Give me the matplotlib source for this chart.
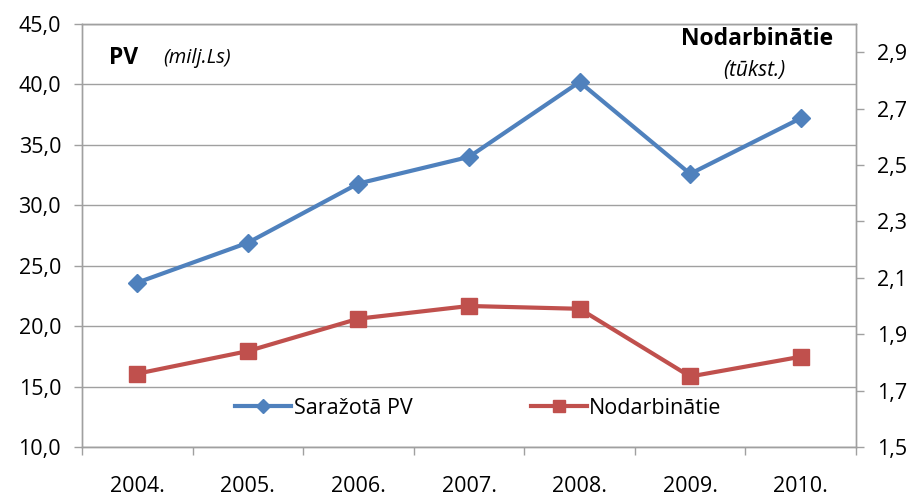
"""PV output vs. employment, 2004-2010 (dual axis line chart)."""

import matplotlib
matplotlib.use("Agg")
import matplotlib.pyplot as plt
from matplotlib.ticker import FixedLocator, FuncFormatter

years = ["2004.", "2005.", "2006.", "2007.", "2008.", "2009.", "2010."]
pv_output = [23.6, 26.9, 31.8, 34.0, 40.2, 32.6, 37.2]      # milj. Ls
employed = [1.76, 1.84, 1.955, 2.00, 1.99, 1.75, 1.82]      # tūkst.

BLUE = "#4F81BD"
RED = "#C0504D"
GREY = "#A0A0A0"
TICK_FS = 15.5

plt.rcParams["font.family"] = ["Open Sans", "DejaVu Sans"]

fig = plt.figure(figsize=(9.13, 4.99), dpi=100)
ax = fig.add_axes([0.0898, 0.1042, 0.8478, 0.8478])
ax2 = ax.twinx()

x = list(range(len(years)))
ax.plot(x, pv_output, color=BLUE, lw=3, marker="D", ms=9.5, label="Saražotā PV")
ax2.plot(x, employed, color=RED, lw=3, marker="s", ms=11.5, label="Nodarbinātie")

ax.set_xlim(-0.5, len(years) - 0.5)
ax.set_ylim(10, 45)
ax2.set_ylim(1.5, 3.0)

comma = lambda fmt: FuncFormatter(lambda v, _: (fmt % v).replace(".", ","))
ax.set_yticks([10, 15, 20, 25, 30, 35, 40, 45])
ax.yaxis.set_major_formatter(comma("%.1f"))
ax2.set_yticks([1.5, 1.7, 1.9, 2.1, 2.3, 2.5, 2.7, 2.9])
ax2.yaxis.set_major_formatter(comma("%.1f"))

ax.set_xticks(x)
ax.set_xticklabels(years)
ax.xaxis.set_minor_locator(FixedLocator([i - 0.5 for i in range(len(years) + 1)]))
ax.tick_params(axis="x", which="major", length=0, pad=21, labelsize=TICK_FS, colors="#000000")
ax.tick_params(axis="x", which="minor", length=6, width=1, color=GREY)
ax.tick_params(axis="y", length=6, width=1, color=GREY, labelsize=TICK_FS, pad=9)
ax2.tick_params(axis="y", length=6, width=1, color=GREY, labelsize=TICK_FS, pad=9)

ax.yaxis.grid(True, color=GREY, lw=1)
ax.set_axisbelow(True)
for a in (ax, ax2):
    for side in ("left", "right", "bottom", "top"):
        a.spines[side].set_color(GREY)
        a.spines[side].set_linewidth(1)

fig.text(0.119, 0.884, "PV", fontsize=16.5, fontweight="bold", va="center")
fig.text(0.179, 0.884, "(milj.Ls)", fontsize=14.5, style="italic", va="center")
fig.text(0.912, 0.922, "Nodarbinātie", fontsize=16.5, fontweight="bold", va="center", ha="right")
fig.text(0.826, 0.858, "(tūkst.)", fontsize=15, style="italic", va="center", ha="center")

h1, l1 = ax.get_legend_handles_labels()
h2, l2 = ax2.get_legend_handles_labels()
ax2.legend(h1 + h2, l1 + l2, loc="center", bbox_to_anchor=(0.512, 0.092), ncol=2,
           frameon=False, fontsize=TICK_FS, handlelength=2.6, handletextpad=0.1,
           columnspacing=5.5, markerscale=0.8)

fig.savefig("out.png", dpi=100)
